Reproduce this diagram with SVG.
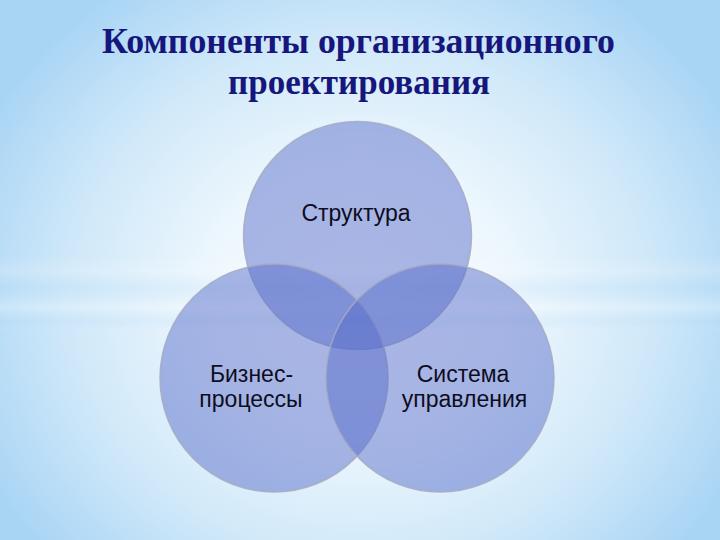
<svg xmlns="http://www.w3.org/2000/svg" width="720" height="540" viewBox="0 0 720 540">
  <defs>
    <radialGradient id="bg" cx="360" cy="300" r="420" gradientUnits="userSpaceOnUse" gradientTransform="translate(360 300) scale(1 0.9) translate(-360 -300)">
      <stop offset="0" stop-color="#FAFDFF"/>
      <stop offset="0.35" stop-color="#EEF7FD"/>
      <stop offset="0.7" stop-color="#CFE8F9"/>
      <stop offset="1" stop-color="#A9D5F5"/>
    </radialGradient>
    <linearGradient id="bands" x1="0" y1="255" x2="0" y2="335" gradientUnits="userSpaceOnUse">
      <stop offset="0" stop-color="#FFFFFF" stop-opacity="0"/>
      <stop offset="0.2" stop-color="#FFFFFF" stop-opacity="0.15"/>
      <stop offset="0.4" stop-color="#A8D4F4" stop-opacity="0.15"/>
      <stop offset="0.66" stop-color="#FFFFFF" stop-opacity="0.25"/>
      <stop offset="0.85" stop-color="#A8D4F4" stop-opacity="0.12"/>
      <stop offset="1" stop-color="#FFFFFF" stop-opacity="0"/>
    </linearGradient>
  </defs>
  <style>
    .circle { fill: #5368C8; fill-opacity: 0.47; stroke: #A4AAC2; stroke-opacity: 0.85; stroke-width: 1.5; }
    .title { font-family: "Liberation Serif", "Times New Roman", serif; font-weight: bold; font-size: 36px; fill: #16167C; text-anchor: middle; }
    .label { font-family: "Liberation Sans", Arial, sans-serif; font-size: 23px; fill: #0D0D1E; text-anchor: middle; }
  </style>
  <rect width="720" height="540" fill="url(#bg)"/>
  <rect x="0" y="255" width="720" height="80" fill="url(#bands)"/>

  <g id="title">
    <text class="title" x="358.5" y="53" textLength="513" lengthAdjust="spacingAndGlyphs">Компоненты организационного</text>
    <text class="title" x="359" y="94" textLength="262" lengthAdjust="spacingAndGlyphs">проектирования</text>
  </g>

  <g id="connectors"></g>

  <g id="node-structure">
    <circle class="circle" cx="357.5" cy="235.5" r="114"/>
  </g>
  <g id="node-business">
    <circle class="circle" cx="274" cy="378" r="114"/>
  </g>
  <g id="node-management">
    <circle class="circle" cx="440" cy="378" r="114"/>
  </g>
  <g id="labels">
    <text class="label" x="356" y="221">Структура</text>
    <text class="label" x="251.5" y="382">Бизнес-</text>
    <text class="label" x="251" y="407">процессы</text>
    <text class="label" x="463" y="382">Система</text>
    <text class="label" x="464.5" y="407">управления</text>
  </g>
</svg>
